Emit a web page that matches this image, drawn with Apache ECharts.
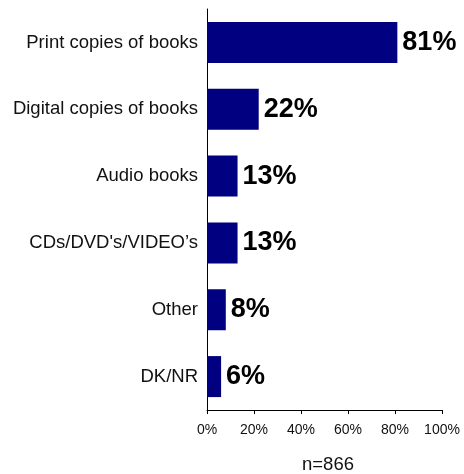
<!DOCTYPE html>
<html>
<head>
<meta charset="utf-8">
<script src="https://cdn.jsdelivr.net/npm/echarts@6/dist/echarts.min.js"></script>
<style>
  html, body { margin: 0; padding: 0; background: #fff; }
  #chart { width: 464px; height: 474px; }
</style>
</head>
<body>
<div id="chart"></div>
<script>
// Formats borrowed, share of respondents (%)
const categories = [
  'Print copies of books',
  'Digital copies of books',
  'Audio books',
  "CDs/DVD's/VIDEO\u2019s",
  'Other',
  'DK/NR'
];
const shares = [81, 22, 13, 13, 8, 6];
const xTicks = [0, 20, 40, 60, 80, 100];
const sampleNote = 'n=866';

const font = '"Liberation Sans", Arial, sans-serif';

const chart = echarts.init(document.getElementById('chart'), null, { renderer: 'canvas' });
chart.setOption({
  animation: false,
  backgroundColor: '#ffffff',
  textStyle: { fontFamily: font },
  title: {
    text: sampleNote,
    left: 323,
    top: 450,
    textAlign: 'center',
    textStyle: { fontSize: 18.5, fontWeight: 'normal', color: '#111' }
  },
  grid: { left: 207, right: 22, top: 9, bottom: 64, containLabel: false, outerBoundsMode: 'none' },
  xAxis: {
    type: 'value',
    min: xTicks[0],
    max: xTicks[xTicks.length - 1],
    interval: xTicks[1] - xTicks[0],
    axisLine: { show: true, lineStyle: { color: '#000', width: 1 } },
    axisTick: { show: true, length: 4, lineStyle: { color: '#000' } },
    splitLine: { show: false },
    axisLabel: { formatter: '{value}%', fontSize: 14, color: '#111', margin: 13 }
  },
  yAxis: {
    type: 'category',
    inverse: true,
    data: categories,
    axisLine: { show: true, lineStyle: { color: '#000', width: 1 } },
    axisTick: { show: false },
    axisLabel: { fontSize: 18.5, color: '#111', margin: 9 }
  },
  series: [{
    type: 'bar',
    data: shares,
    barWidth: 41,
    itemStyle: { color: '#000080' },
    label: {
      show: true,
      position: 'right',
      distance: 5,
      formatter: '{c}%',
      fontSize: 27,
      fontWeight: 'bold',
      color: '#000'
    }
  }]
});
</script>
</body>
</html>
